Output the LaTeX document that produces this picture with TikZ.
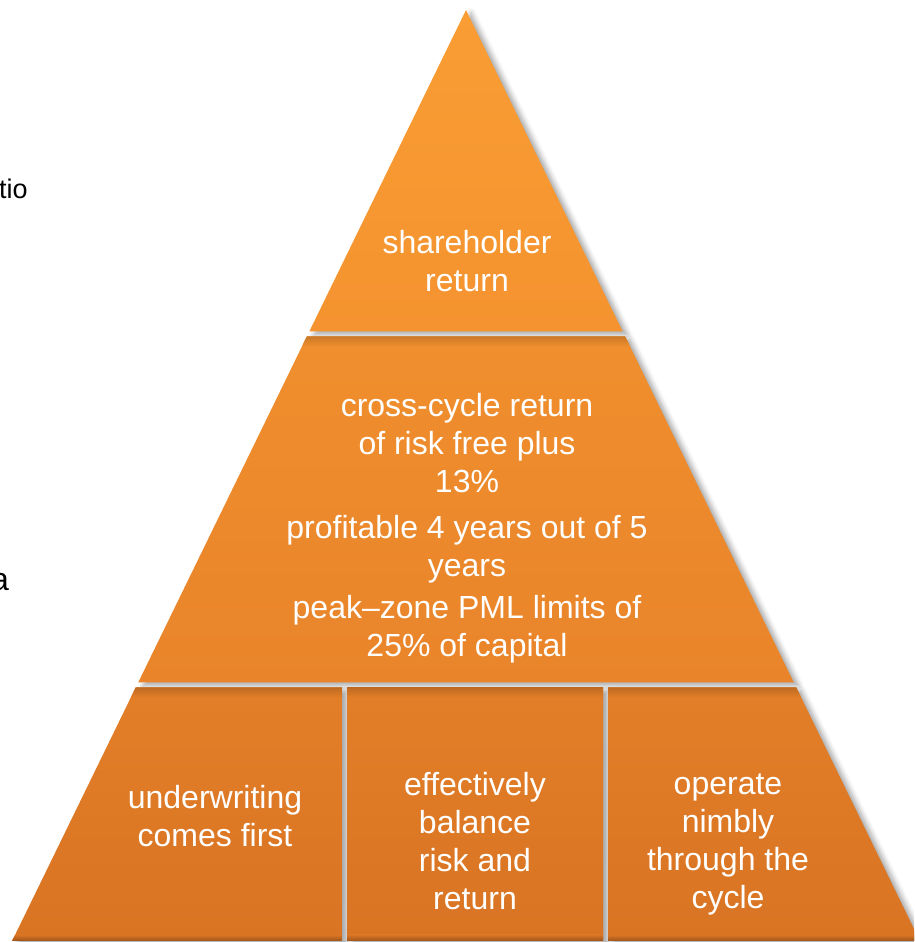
\documentclass[tikz,border=0pt]{standalone}
\usepackage{fontspec}
\setmainfont{Liberation Sans}
\usepackage{tikz}
\usetikzlibrary{shadows}
\usetikzlibrary{shadows.blur}

\definecolor{tierA}{HTML}{FA9D34}
\definecolor{tierB}{HTML}{F4932F}
\definecolor{tierC}{HTML}{F08F2E}
\definecolor{tierD}{HTML}{E9842A}
\definecolor{tierE}{HTML}{E37E28}
\definecolor{tierF}{HTML}{D87423}

\begin{document}
\begin{tikzpicture}[x=1pt,y=1pt,
            tier/.style 2 args={top color=#1, bottom color=#2, draw=none,
            blur shadow={shadow xshift=5pt, shadow yshift=-3pt, shadow blur radius=5pt,
            shadow opacity=35}},
            dusk/.style={top color=#1!84!black, bottom color=#1, draw=none},
            floor/.style={top color=tierF, bottom color=tierF!72!black, draw=none},
            caption/.style={text=white, align=center, inner sep=0pt,
            font=\fontsize{32}{38}\selectfont},
            aside/.style={text=black, inner sep=0pt, font=\fontsize{27}{32}\selectfont}]
            \path[use as bounding box, clip] (0,0) rectangle (914,942);

            % pyramid tiers
            \path[tier={tierA}{tierB}] (466,932) -- (309.3,610.5) -- (622.7,610.5) -- cycle;
            \path[tier={tierC}{tierD}] (306.8,605.5) -- (138.2,259.5) -- (793.8,259.5) -- (625.2,605.5) -- cycle;
            \path[tier={tierE}{tierF}] (135.7,254.5) -- (342,254.5) -- (342,1) -- (12.1,1) -- cycle;
            \path[tier={tierE}{tierF}] (347,254.5) -- (603,254.5) -- (603,1) -- (347,1) -- cycle;
            \path[tier={tierE}{tierF}] (608,254.5) -- (796.3,254.5) -- (919.9,1) -- (608,1) -- cycle;

            % shade under the gaps
            \shade[dusk=tierC] (306.8,605.5) -- (625.2,605.5) -- (630.1,595.5) -- (301.9,595.5) -- cycle;
            \shade[dusk=tierE] (135.7,254.5) -- (342,254.5) -- (342,244.5) -- (130.8,244.5) -- cycle;
            \shade[dusk=tierE] (347,254.5) rectangle (603,244.5);
            \shade[dusk=tierE] (608,254.5) -- (796.3,254.5) -- (801.2,244.5) -- (608,244.5) -- cycle;
            \shade[floor] (12.1,1) -- (342,1) -- (342,7) -- (15,7) -- cycle;
            \shade[floor] (347,1) rectangle (603,7);
            \shade[floor] (608,1) -- (919.9,1) -- (917,7) -- (608,7) -- cycle;

            % texts
            \node[caption] (share) at (467,681) {shareholder\\return};
            \node[caption] (target) at (467,414) {cross-cycle return\\of risk free plus\\13\%\\[8pt]profitable 4 years out of 5\\years\\[4pt]peak–zone PML limits of\\25\% of capital};
            \node[caption] (underwrite) at (215,126) {underwriting\\comes first};
            \node[caption] (balance) at (475,101) {effectively\\balance\\risk and\\return};
            \node[caption] (nimble) at (728,97.5) {operate\\nimbly\\through the\\cycle};

            \node[aside, anchor=base west] (ratio) at (-1,743) {tio};
            \node[aside, anchor=base east, font=\fontsize{32}{38}\selectfont] (area) at (9,351) {a};
        \end{tikzpicture}
\end{document}
